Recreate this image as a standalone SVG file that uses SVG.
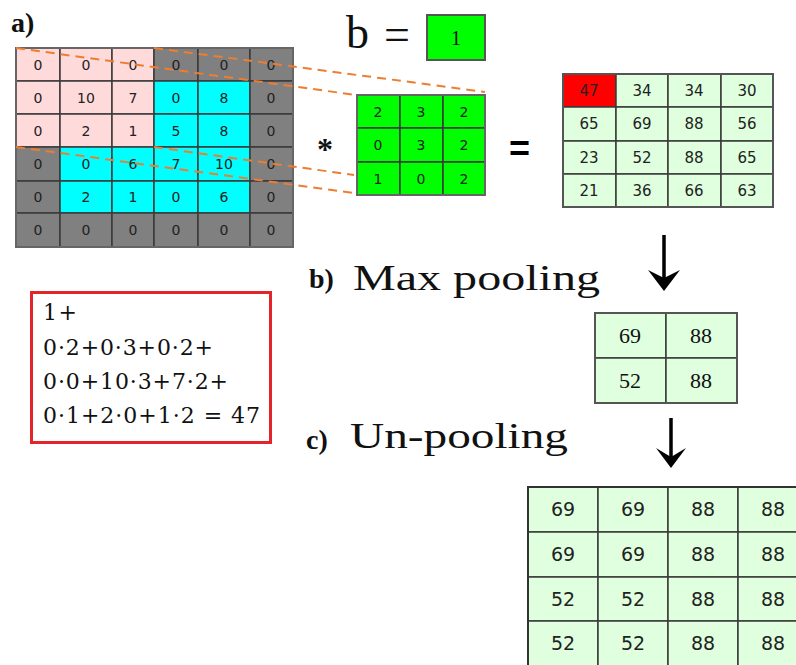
<svg xmlns="http://www.w3.org/2000/svg" width="796" height="665" viewBox="0 0 796 665">
<style>
.c{stroke:#3a3a3a;stroke-width:1.5}
.P{fill:#FFDADA}.G{fill:#808080}.C{fill:#00FFFF}.K{fill:#00FF00}.L{fill:#DFFFDF}.R{fill:#FF0000}
.n{font-family:"DejaVu Sans","Liberation Sans",sans-serif;font-size:14px;fill:#222;text-anchor:middle}
.o{font-family:"DejaVu Sans","Liberation Sans",sans-serif;font-size:15px;fill:#222;text-anchor:middle}
.u{font-family:"DejaVu Sans","Liberation Sans",sans-serif;font-size:19px;fill:#222;text-anchor:middle}
.s{font-family:"Liberation Serif","Times New Roman",serif;fill:#111}
.lab{font-family:"Liberation Serif","Times New Roman",serif;font-weight:bold;font-size:28px;fill:#111}
.big{font-family:"Liberation Serif","Times New Roman",serif;font-size:36px;fill:#111}
.eq{font-family:"DejaVu Serif","Liberation Serif",serif;font-size:22px;fill:#111}
.dash{stroke:#ED7D31;stroke-width:2;stroke-dasharray:9 6;fill:none}
.ar{stroke:#000;stroke-width:3.5}
</style>

<g id="label-a"><text class="lab" x="11" y="32">a)</text></g>

<g id="input-grid">
<rect class="c P" x="16" y="48" width="44" height="33"/><rect class="c P" x="60" y="48" width="52" height="33"/><rect class="c P" x="112" y="48" width="42" height="33"/><rect class="c G" x="154" y="48" width="44" height="33"/><rect class="c G" x="198" y="48" width="52" height="33"/><rect class="c G" x="250" y="48" width="43" height="33"/>
<rect class="c P" x="16" y="81" width="44" height="33"/><rect class="c P" x="60" y="81" width="52" height="33"/><rect class="c P" x="112" y="81" width="42" height="33"/><rect class="c C" x="154" y="81" width="44" height="33"/><rect class="c C" x="198" y="81" width="52" height="33"/><rect class="c G" x="250" y="81" width="43" height="33"/>
<rect class="c P" x="16" y="114" width="44" height="33"/><rect class="c P" x="60" y="114" width="52" height="33"/><rect class="c P" x="112" y="114" width="42" height="33"/><rect class="c C" x="154" y="114" width="44" height="33"/><rect class="c C" x="198" y="114" width="52" height="33"/><rect class="c G" x="250" y="114" width="43" height="33"/>
<rect class="c G" x="16" y="147" width="44" height="34"/><rect class="c C" x="60" y="147" width="52" height="34"/><rect class="c C" x="112" y="147" width="42" height="34"/><rect class="c C" x="154" y="147" width="44" height="34"/><rect class="c C" x="198" y="147" width="52" height="34"/><rect class="c G" x="250" y="147" width="43" height="34"/>
<rect class="c G" x="16" y="181" width="44" height="32"/><rect class="c C" x="60" y="181" width="52" height="32"/><rect class="c C" x="112" y="181" width="42" height="32"/><rect class="c C" x="154" y="181" width="44" height="32"/><rect class="c C" x="198" y="181" width="52" height="32"/><rect class="c G" x="250" y="181" width="43" height="32"/>
<rect class="c G" x="16" y="213" width="44" height="34"/><rect class="c G" x="60" y="213" width="52" height="34"/><rect class="c G" x="112" y="213" width="42" height="34"/><rect class="c G" x="154" y="213" width="44" height="34"/><rect class="c G" x="198" y="213" width="52" height="34"/><rect class="c G" x="250" y="213" width="43" height="34"/>
<rect x="16" y="48" width="277" height="199" fill="none" stroke="#666" stroke-width="2"/>
<text class="n" x="38" y="70">0</text><text class="n" x="86" y="70">0</text><text class="n" x="133" y="70">0</text><text class="n" x="176" y="70">0</text><text class="n" x="224" y="70">0</text><text class="n" x="271" y="70">0</text>
<text class="n" x="38" y="103">0</text><text class="n" x="86" y="103">10</text><text class="n" x="133" y="103">7</text><text class="n" x="176" y="103">0</text><text class="n" x="224" y="103">8</text><text class="n" x="271" y="103">0</text>
<text class="n" x="38" y="136">0</text><text class="n" x="86" y="136">2</text><text class="n" x="133" y="136">1</text><text class="n" x="176" y="136">5</text><text class="n" x="224" y="136">8</text><text class="n" x="271" y="136">0</text>
<text class="n" x="38" y="169">0</text><text class="n" x="86" y="169">0</text><text class="n" x="133" y="169">6</text><text class="n" x="176" y="169">7</text><text class="n" x="224" y="169">10</text><text class="n" x="271" y="169">0</text>
<text class="n" x="38" y="202">0</text><text class="n" x="86" y="202">2</text><text class="n" x="133" y="202">1</text><text class="n" x="176" y="202">0</text><text class="n" x="224" y="202">6</text><text class="n" x="271" y="202">0</text>
<text class="n" x="38" y="235">0</text><text class="n" x="86" y="235">0</text><text class="n" x="133" y="235">0</text><text class="n" x="176" y="235">0</text><text class="n" x="224" y="235">0</text><text class="n" x="271" y="235">0</text>
</g>

<g id="bias">
<text class="s" x="346" y="48" font-size="46">b</text>
<text class="s" x="384" y="50" font-size="46">=</text>
<rect class="K" x="427" y="15" width="58" height="45" stroke="#555" stroke-width="2"/>
<text class="s" x="456" y="45" font-size="21" text-anchor="middle">1</text>
</g>

<g id="star"><text x="325" y="160" font-family="Liberation Serif,serif" font-weight="bold" font-size="32" text-anchor="middle" fill="#111">*</text></g>

<g id="kernel">
<rect class="c K" x="357" y="95" width="43" height="33"/><rect class="c K" x="400" y="95" width="43" height="33"/><rect class="c K" x="443" y="95" width="42" height="33"/>
<rect class="c K" x="357" y="128" width="43" height="34"/><rect class="c K" x="400" y="128" width="43" height="34"/><rect class="c K" x="443" y="128" width="42" height="34"/>
<rect class="c K" x="357" y="162" width="43" height="33"/><rect class="c K" x="400" y="162" width="43" height="33"/><rect class="c K" x="443" y="162" width="42" height="33"/>
<rect x="357" y="95" width="128" height="100" fill="none" stroke="#666" stroke-width="2"/>
<text class="n" x="378" y="117">2</text><text class="n" x="421" y="117">3</text><text class="n" x="464" y="117">2</text>
<text class="n" x="378" y="150">0</text><text class="n" x="421" y="150">3</text><text class="n" x="464" y="150">2</text>
<text class="n" x="378" y="184">1</text><text class="n" x="421" y="184">0</text><text class="n" x="464" y="184">2</text>
</g>

<g id="equals"><text x="509" y="161" font-family="Liberation Sans,Arial,sans-serif" font-weight="bold" font-size="36" fill="#000">=</text></g>

<g id="output-grid">
<rect class="c R" x="563" y="74" width="53" height="33"/><rect class="c L" x="616" y="74" width="52" height="33"/><rect class="c L" x="668" y="74" width="53" height="33"/><rect class="c L" x="721" y="74" width="52" height="33"/>
<rect class="c L" x="563" y="107" width="53" height="34"/><rect class="c L" x="616" y="107" width="52" height="34"/><rect class="c L" x="668" y="107" width="53" height="34"/><rect class="c L" x="721" y="107" width="52" height="34"/>
<rect class="c L" x="563" y="141" width="53" height="33"/><rect class="c L" x="616" y="141" width="52" height="33"/><rect class="c L" x="668" y="141" width="53" height="33"/><rect class="c L" x="721" y="141" width="52" height="33"/>
<rect class="c L" x="563" y="174" width="53" height="33"/><rect class="c L" x="616" y="174" width="52" height="33"/><rect class="c L" x="668" y="174" width="53" height="33"/><rect class="c L" x="721" y="174" width="52" height="33"/>
<rect x="563" y="74" width="210" height="133" fill="none" stroke="#555" stroke-width="2"/>
<text class="o" x="589" y="96">47</text><text class="o" x="642" y="96">34</text><text class="o" x="694" y="96">34</text><text class="o" x="747" y="96">30</text>
<text class="o" x="589" y="129">65</text><text class="o" x="642" y="129">69</text><text class="o" x="694" y="129">88</text><text class="o" x="747" y="129">56</text>
<text class="o" x="589" y="163">23</text><text class="o" x="642" y="163">52</text><text class="o" x="694" y="163">88</text><text class="o" x="747" y="163">65</text>
<text class="o" x="589" y="196">21</text><text class="o" x="642" y="196">36</text><text class="o" x="694" y="196">66</text><text class="o" x="747" y="196">63</text>
</g>

<g id="formula">
<rect x="31.5" y="292.5" width="239" height="150" fill="#fff" stroke="#E3242B" stroke-width="3"/>
<text class="eq" x="43" y="320" textLength="34" lengthAdjust="spacing">1+</text>
<text class="eq" x="43" y="355" textLength="170" lengthAdjust="spacing">0·2+0·3+0·2+</text>
<text class="eq" x="43" y="389" textLength="185" lengthAdjust="spacing">0·0+10·3+7·2+</text>
<text class="eq" x="43" y="423" textLength="217" lengthAdjust="spacing">0·1+2·0+1·2 = 47</text>
</g>

<g id="label-b">
<text class="lab" x="309" y="288">b)</text>
<text class="big" x="353" y="290" textLength="247" lengthAdjust="spacingAndGlyphs">Max pooling</text>
</g>

<g id="pool-grid">
<rect class="c L" x="595" y="313" width="71" height="45"/><rect class="c L" x="666" y="313" width="71" height="45"/>
<rect class="c L" x="595" y="358" width="71" height="45"/><rect class="c L" x="666" y="358" width="71" height="45"/>
<rect x="595" y="313" width="142" height="90" fill="none" stroke="#555" stroke-width="2"/>
<text class="s" font-size="22" text-anchor="middle" x="630" y="343">69</text><text class="s" font-size="22" text-anchor="middle" x="701" y="343">88</text>
<text class="s" font-size="22" text-anchor="middle" x="630" y="388">52</text><text class="s" font-size="22" text-anchor="middle" x="701" y="388">88</text>
</g>

<g id="label-c">
<text class="lab" x="306" y="449">c)</text>
<text class="big" x="350" y="448" textLength="218" lengthAdjust="spacingAndGlyphs">Un-pooling</text>
</g>

<g id="unpool-grid">
<rect class="c L" x="528" y="487" width="70" height="45"/><rect class="c L" x="598" y="487" width="70" height="45"/><rect class="c L" x="668" y="487" width="70" height="45"/><rect class="c L" x="738" y="487" width="70" height="45"/>
<rect class="c L" x="528" y="532" width="70" height="45"/><rect class="c L" x="598" y="532" width="70" height="45"/><rect class="c L" x="668" y="532" width="70" height="45"/><rect class="c L" x="738" y="532" width="70" height="45"/>
<rect class="c L" x="528" y="577" width="70" height="44"/><rect class="c L" x="598" y="577" width="70" height="44"/><rect class="c L" x="668" y="577" width="70" height="44"/><rect class="c L" x="738" y="577" width="70" height="44"/>
<rect class="c L" x="528" y="621" width="70" height="46"/><rect class="c L" x="598" y="621" width="70" height="46"/><rect class="c L" x="668" y="621" width="70" height="46"/><rect class="c L" x="738" y="621" width="70" height="46"/>
<rect x="528" y="487" width="280" height="180" fill="none" stroke="#333" stroke-width="2"/>
<text class="u" x="563" y="516">69</text><text class="u" x="633" y="516">69</text><text class="u" x="703" y="516">88</text><text class="u" x="773" y="516">88</text>
<text class="u" x="563" y="561">69</text><text class="u" x="633" y="561">69</text><text class="u" x="703" y="561">88</text><text class="u" x="773" y="561">88</text>
<text class="u" x="563" y="606">52</text><text class="u" x="633" y="606">52</text><text class="u" x="703" y="606">88</text><text class="u" x="773" y="606">88</text>
<text class="u" x="563" y="650">52</text><text class="u" x="633" y="650">52</text><text class="u" x="703" y="650">88</text><text class="u" x="773" y="650">88</text>
</g>

<g id="connectors">
<line class="dash" x1="154" y1="48" x2="485" y2="92"/>
<line class="dash" x1="16" y1="48" x2="356" y2="95"/>
<line class="dash" x1="154" y1="147" x2="354" y2="175"/>
<line class="dash" x1="16" y1="147" x2="354" y2="193"/>
<line class="ar" x1="664" y1="235" x2="664" y2="280"/>
<polygon points="648,270 664,291 680,270 664,278" fill="#000"/>
<line class="ar" x1="671" y1="418" x2="671" y2="458"/>
<polygon points="656,448 671,468 686,448 671,457" fill="#000"/>
</g>
</svg>
